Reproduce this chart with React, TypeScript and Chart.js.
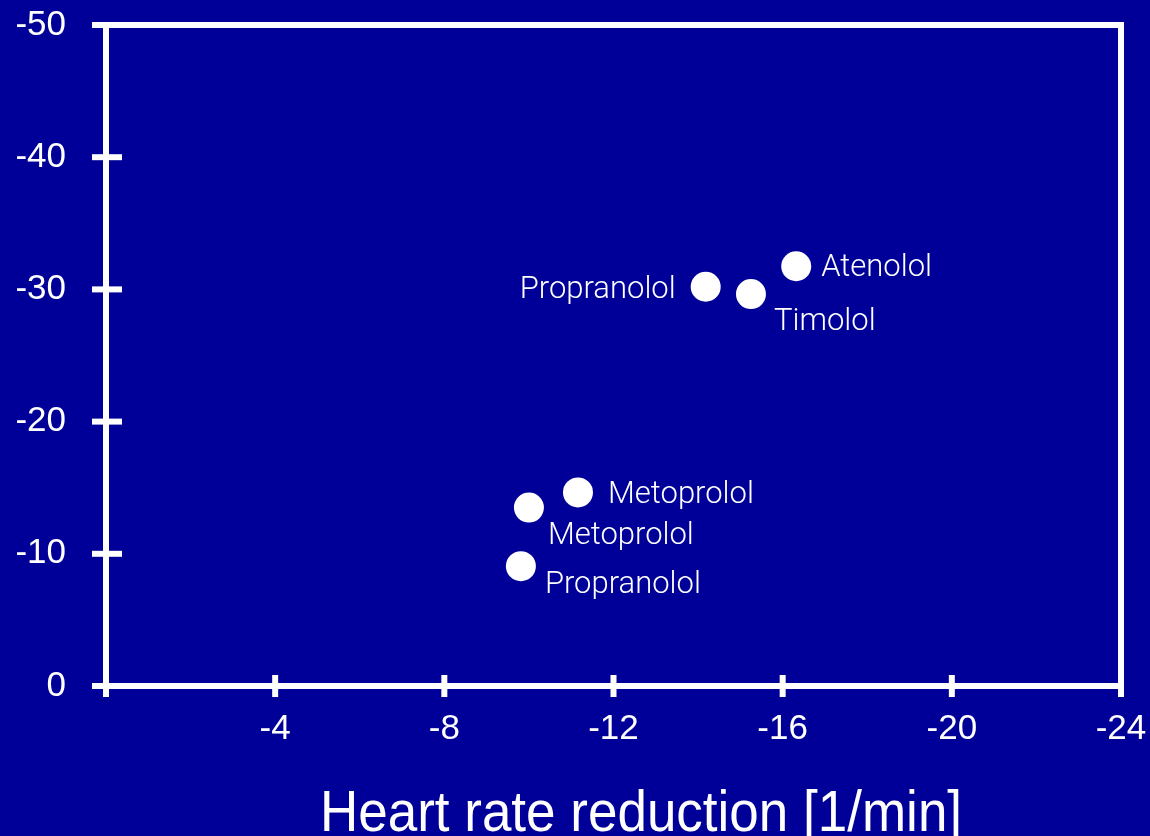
import React, { useEffect, useRef } from 'react';
import { Chart, registerables } from 'chart.js';

Chart.register(...registerables);

// ---- data ----
const drugNames = ['Propranolol', 'Timolol', 'Atenolol', 'Metoprolol', 'Metoprolol', 'Propranolol'];
const heartRateReduction = [-14.18, -15.25, -16.32, -11.16, -10.0, -9.81];
const pressureReduction = [-30.2, -29.65, -31.75, -14.64, -13.5, -9.06];
const xTickValues = [0, -4, -8, -12, -16, -20, -24];
const yTickValues = [0, -10, -20, -30, -40, -50];
const xAxisTitle = 'Heart rate reduction [1/min]';

// ---- label placement (layout only) ----
const labelPlacement = [
  { dx: -30, dy: 11, align: 'right' },
  { dx: 23, dy: 36, align: 'left' },
  { dx: 25, dy: 10, align: 'left' },
  { dx: 30, dy: 11, align: 'left' },
  { dx: 19, dy: 36, align: 'left' },
  { dx: 24, dy: 27, align: 'left' },
];

const BG = 'rgb(0,0,153)';
const FG = '#ffffff';

const framePlugin = {
  id: 'frame',
  beforeDraw(chart: any) {
    const ctx = chart.ctx;
    ctx.save();
    ctx.fillStyle = BG;
    ctx.fillRect(0, 0, chart.width, chart.height);
    ctx.restore();
  },
  afterDraw(chart: any) {
    const ctx = chart.ctx;
    const { left, right, top, bottom } = chart.chartArea;
    const xs = chart.scales.x;
    const ys = chart.scales.y;
    ctx.save();
    ctx.strokeStyle = FG;
    ctx.lineWidth = 6;
    ctx.lineCap = 'butt';
    ctx.strokeRect(left, top, right - left, bottom - top);
    // y ticks crossing the axis
    yTickValues.forEach((v) => {
      const py = ys.getPixelForValue(v);
      ctx.beginPath();
      ctx.moveTo(left - 14, py);
      ctx.lineTo(left + 16, py);
      ctx.stroke();
    });
    // x ticks crossing the axis
    xTickValues.forEach((v) => {
      const px = xs.getPixelForValue(v);
      ctx.beginPath();
      ctx.moveTo(px, bottom - 11);
      ctx.lineTo(px, bottom + 11);
      ctx.stroke();
    });
    // axis title
    ctx.fillStyle = FG;
    ctx.font = '53px "Liberation Sans", Arial, sans-serif';
    ctx.textAlign = 'center';
    ctx.textBaseline = 'alphabetic';
    ctx.translate(641, 831);
    ctx.scale(1, 1.07);
    ctx.fillText(xAxisTitle, 0, 0);
    ctx.restore();
  },
  afterDatasetsDraw(chart: any) {
    const ctx = chart.ctx;
    const meta = chart.getDatasetMeta(0);
    ctx.save();
    ctx.fillStyle = FG;
    ctx.font = '300 31px Roboto, "Noto Sans", sans-serif';
    ctx.textBaseline = 'alphabetic';
    meta.data.forEach((pt: any, i: number) => {
      const p = labelPlacement[i];
      ctx.textAlign = p.align;
      ctx.fillText(drugNames[i], pt.x + p.dx, pt.y + p.dy);
    });
    ctx.restore();
  },
};

const zeroPadding = (s: any) => {
  s.paddingTop = 0;
  s.paddingBottom = 0;
  s.paddingLeft = 0;
  s.paddingRight = 0;
};

export default function App() {
  const ref = useRef<HTMLCanvasElement | null>(null);

  useEffect(() => {
    document.body.style.margin = '0';
    document.body.style.background = BG;
    const canvas = ref.current;
    if (!canvas) return;
    const chart = new Chart(canvas, {
      type: 'scatter',
      data: {
        datasets: [
          {
            data: heartRateReduction.map((x, i) => ({ x, y: pressureReduction[i] })),
            backgroundColor: FG,
            borderWidth: 0,
            pointRadius: 15,
            pointHoverRadius: 15,
          },
        ],
      },
      options: {
        responsive: false,
        animation: false,
        events: [],
        layout: { padding: { top: 25, right: 29, left: 0, bottom: 0 } },
        plugins: {
          legend: { display: false },
          tooltip: { enabled: false },
          title: { display: false },
        },
        scales: {
          x: {
            type: 'linear',
            reverse: true,
            min: -24,
            max: 0,
            afterBuildTicks: (s: any) => {
              s.ticks = xTickValues.map((v) => ({ value: v }));
            },
            afterFit: (s: any) => {
              s.height = 150;
              zeroPadding(s);
            },
            grid: { display: false, drawTicks: false },
            border: { display: false },
            ticks: {
              color: FG,
              padding: 22,
              maxRotation: 0,
              autoSkip: false,
              font: { family: '"Liberation Sans", Arial, sans-serif', size: 35 },
              callback: (v: any) => (v === 0 ? '' : String(v)),
            },
          },
          y: {
            type: 'linear',
            reverse: true,
            min: -50,
            max: 0,
            afterBuildTicks: (s: any) => {
              s.ticks = yTickValues.map((v) => ({ value: v }));
            },
            afterFit: (s: any) => {
              s.width = 106;
              zeroPadding(s);
            },
            grid: { display: false, drawTicks: false },
            border: { display: false },
            ticks: {
              color: FG,
              padding: 40,
              autoSkip: false,
              font: { family: '"Liberation Sans", Arial, sans-serif', size: 35 },
              callback: (v: any) => String(v),
            },
          },
        },
      },
      plugins: [framePlugin],
    } as any);
    return () => chart.destroy();
  }, []);

  return (
    <div style={{ position: 'absolute', left: 0, top: 0, width: 1150, height: 836, background: BG }}>
      <canvas ref={ref} width={1150} height={836} style={{ display: 'block', width: 1150, height: 836 }} />
    </div>
  );
}
